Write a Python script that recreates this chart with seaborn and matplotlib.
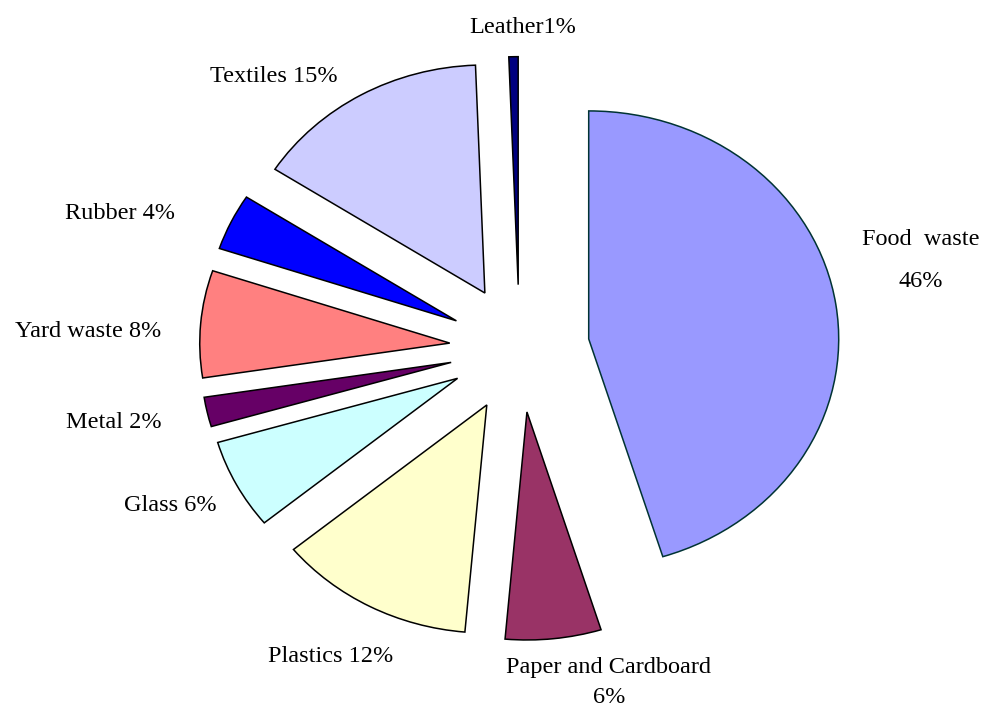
import matplotlib
matplotlib.use("Agg")
import matplotlib.pyplot as plt
import seaborn as sns

# waste composition (percent)
categories = ["Food waste", "Paper and Cardboard", "Plastics", "Glass", "Metal",
              "Yard waste", "Rubber", "Textiles", "Leather"]
shares = [45.3, 6.2, 12.7, 6.4, 2.1, 7.6, 4.0, 15.3, 0.6]
# label text as printed on the chart
label_texts = ["Food  waste\n46%", "Paper and Cardboard\n6%", "Plastics 12%", "Glass 6%",
               "Metal 2%", "Yard waste 8%", "Rubber 4%", "Textiles 15%", "Leather1%"]
colors = ["#9999FF", "#993366", "#FFFFCC", "#CCFFFF", "#660066",
          "#FF8080", "#0000FF", "#CCCCFF", "#000080"]
edge_colors = ["#003333", "black", "black", "black", "black",
               "black", "black", "black", "black"]

# label anchor points in pixels (x centre, baseline y from top)
label_px = [(921, 245), (609, 673), (331, 662), (170, 511), (114, 428),
            (88, 337), (120, 219), (274, 82), (523, 33)]
second_line_gap = [42, 30, 0, 0, 0, 0, 0, 0, 0]

W, H = 986, 707
CX, CY = 519.5, 348.5      # pie centre in pixels
RX, RY = 250.0, 228.0      # pixel radius (chart is slightly stretched)
FS = 17.5

sns.set_theme(style="white")
plt.rcParams["font.family"] = ["Liberation Serif", "DejaVu Serif"]

fig = plt.figure(figsize=(W / 100, H / 100), dpi=100)
ax = fig.add_axes([0, 0, 1, 1])

wedges, _ = ax.pie(
    shares,
    colors=sns.color_palette(colors),
    explode=[0.28] * len(shares),
    startangle=90,
    counterclock=False,
    wedgeprops=dict(linewidth=1.1, edgecolor="black"),
)
for w, ec in zip(wedges, edge_colors):
    w.set_edgecolor(ec)

ax.set_aspect("auto")
ax.set_xlim(-CX / RX, (W - CX) / RX)
ax.set_ylim(-(H - CY) / RY, CY / RY)
ax.axis("off")

for txt, (px, py), gap in zip(label_texts, label_px, second_line_gap):
    lines = txt.split("\n")
    for i, line in enumerate(lines):
        ax.text(px / W, 1 - (py + i * gap) / H, line, transform=ax.transAxes,
                ha="center", va="baseline", fontsize=FS, color="black")

fig.savefig("out.png", dpi=100, facecolor="white")
